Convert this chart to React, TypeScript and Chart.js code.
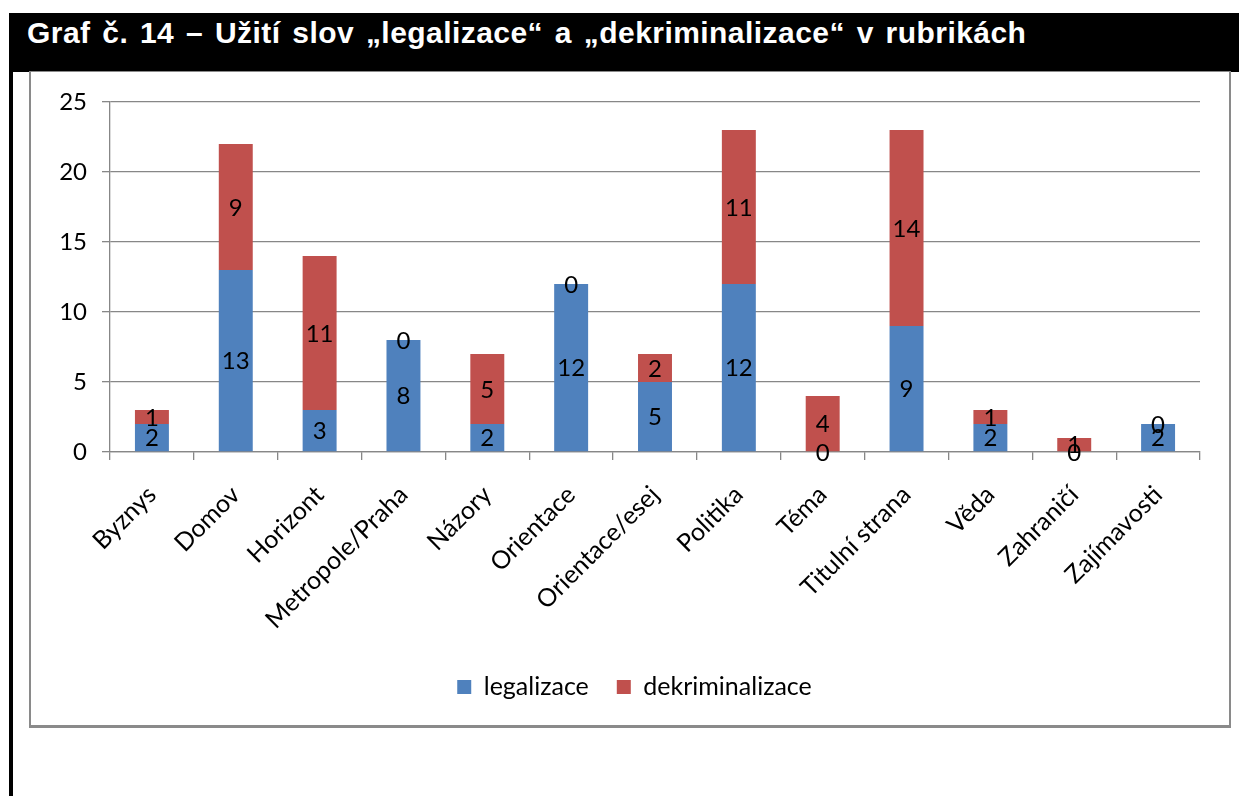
import React, { useEffect, useRef } from "react";
import { Chart, registerables } from "chart.js";

Chart.register(...registerables);

const TITLE = "Graf č. 14 – Užití slov „legalizace“ a „dekriminalizace“ v rubrikách";
const categories = [
  "Byznys",
  "Domov",
  "Horizont",
  "Metropole/Praha",
  "Názory",
  "Orientace",
  "Orientace/esej",
  "Politika",
  "Téma",
  "Titulní strana",
  "Věda",
  "Zahraničí",
  "Zajímavosti",
];
const legalizace = [2, 13, 3, 8, 2, 12, 5, 12, 0, 9, 2, 0, 2];
const dekriminalizace = [1, 9, 11, 0, 5, 0, 2, 11, 4, 14, 1, 1, 0];
const seriesNames = ["legalizace", "dekriminalizace"];
const yTicks = [0, 5, 10, 15, 20, 25];

const FONT = "Lato, 'Open Sans', sans-serif";
const GRID = "#878787";

const dataLabels = {
  id: "dataLabels",
  afterDatasetsDraw(chart: any) {
    const ctx = chart.ctx;
    ctx.save();
    ctx.font = `24px ${FONT}`;
    ctx.fillStyle = "#000";
    ctx.textAlign = "center";
    ctx.textBaseline = "middle";
    chart.data.datasets.forEach((ds: any, di: number) => {
      const meta = chart.getDatasetMeta(di);
      meta.data.forEach((bar: any, i: number) => {
        const v = ds.data[i];
        const yc = (bar.y + bar.base) / 2;
        ctx.fillText(String(v), bar.x, yc + 1);
      });
    });
    ctx.restore();
  },
};

export default function App() {
  const ref = useRef<HTMLCanvasElement>(null);
  useEffect(() => {
    if (!ref.current) return;
    const chart = new Chart(ref.current, {
      type: "bar",
      data: {
        labels: categories,
        datasets: [
          {
            label: seriesNames[0],
            data: legalizace,
            backgroundColor: "#4F81BD",
            barPercentage: 0.405,
            categoryPercentage: 1,
          },
          {
            label: seriesNames[1],
            data: dekriminalizace,
            backgroundColor: "#C0504D",
            barPercentage: 0.405,
            categoryPercentage: 1,
          },
        ],
      },
      options: {
        animation: false,
        responsive: false,
        maintainAspectRatio: false,
        layout: { padding: { left: 23, right: 14, top: 30, bottom: 14.5 } },
        plugins: {
          tooltip: { enabled: false },
          title: { display: false },
          legend: {
            position: "bottom",
            labels: {
              boxWidth: 14,
              boxHeight: 14,
              padding: 28,
              color: "#000",
              font: { family: FONT, size: 25 },
            },
          },
        },
        scales: {
          x: {
            stacked: true,
            grid: {
              drawOnChartArea: false,
              drawTicks: true,
              tickLength: 8,
              color: GRID,
              lineWidth: 1.3,
            },
            border: { display: true, color: GRID, width: 1.3 },
            ticks: {
              minRotation: 45,
              maxRotation: 45,
              padding: 20,
              color: "#000",
              font: { family: FONT, size: 25 },
              autoSkip: false,
            },
            afterFit: (s: any) => {
              s.height = 194.5;
            },
          },
          y: {
            stacked: true,
            min: 0,
            max: 25,
            afterBuildTicks: (s: any) => {
              s.ticks = yTicks.map((v) => ({ value: v }));
            },
            grid: { color: GRID, lineWidth: 1.3, tickLength: 8 },
            border: { display: true, color: GRID, width: 1.3 },
            ticks: {
              padding: 15,
              color: "#000",
              font: { family: FONT, size: 24 },
            },
            afterFit: (s: any) => {
              s.width = 56;
            },
          },
          spacer: {
            type: "linear",
            position: "right",
            display: true,
            grid: { display: false },
            border: { display: false },
            ticks: { display: false },
            afterFit: (s: any) => {
              s.width = 15;
            },
          },
        },
      },
      plugins: [dataLabels],
    });
    return () => chart.destroy();
  }, []);

  return (
    <div style={{ position: "absolute", left: 0, top: 0, width: 1239, height: 796, background: "#fff", overflow: "hidden" }}>
      <div style={{ position: "absolute", left: 9, top: 13, width: 4, height: 783, background: "#000" }} />
      <div style={{ position: "absolute", left: 10, top: 13, width: 1229, height: 59, background: "#000" }} />
      <div
        style={{
          position: "absolute",
          left: 27,
          top: 18,
          color: "#fff",
          fontFamily: "'Liberation Sans', Arial, sans-serif",
          fontWeight: "bold",
          fontSize: 30,
          lineHeight: "30px",
          letterSpacing: 0.45,
          wordSpacing: 3,
          whiteSpace: "nowrap",
        }}
      >
        {TITLE}
      </div>
      <div
        style={{
          position: "absolute",
          left: 29,
          top: 71,
          width: 1198,
          height: 653,
          borderLeft: "2px solid #8a8a8a",
          borderRight: "2px solid #8a8a8a",
          borderBottom: "3px solid #8a8a8a",
          borderTop: "1px solid #8a8a8a",
        }}
      >
        <canvas ref={ref} width={1198} height={652} style={{ display: "block", width: 1198, height: 652 }} />
      </div>
    </div>
  );
}
